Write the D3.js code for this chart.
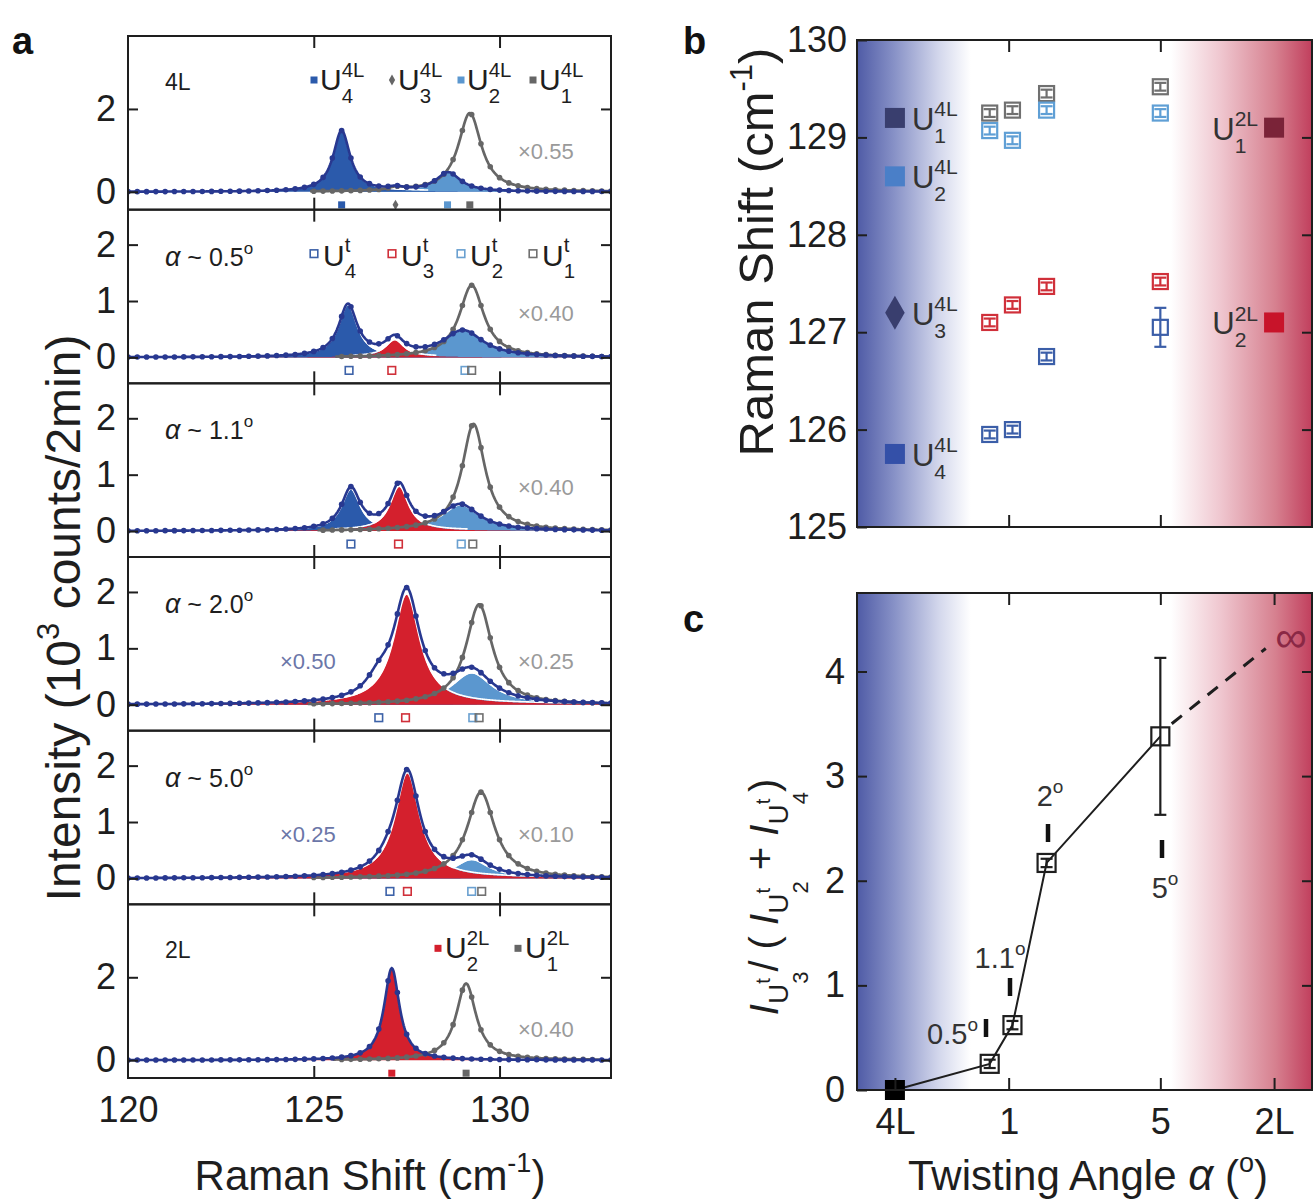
<!DOCTYPE html>
<html>
<head>
<meta charset="utf-8">
<script src="https://cdn.jsdelivr.net/npm/d3@7"></script>
<style>
  body { margin: 0; background: #fff; }
  text { font-family: "Liberation Sans", Arial, Helvetica, sans-serif; }
</style>
</head>
<body>
<script>
// ---------- data ----------
// panel a: fitted Lorentzian components per spectrum, [center, height, FWHM]
var spectra   = ["4L", "0.5", "1.1", "2.0", "5.0", "2L"];
var peakDark  = [[125.75,1.47,0.55],[125.92,0.92,0.6],[126.0,0.73,0.6],[126.75,0.28,0.8],[127.0,0.12,0.8],null];
var peakRed   = [null,[127.18,0.3,0.6],[127.3,0.78,0.6],[127.5,1.95,0.85],[127.52,1.86,0.8],[127.1,2.22,0.5]];
var peakLight = [[128.62,0.46,0.8],[129.02,0.47,1.3],[128.95,0.45,1.2],[129.25,0.55,1.3],[129.25,0.32,1.1],null];
var peakGray  = [[129.2,1.9,0.75],[129.25,1.28,0.8],[129.3,1.9,0.75],[129.45,1.78,0.85],[129.5,1.53,0.9],[129.1,1.85,0.65]];
var peakU3of4L = [127.22,0.07,0.5];
var grayFactor = ["×0.55","×0.40","×0.40","×0.25","×0.10","×0.40"];
var blueFactor = [null,null,null,"×0.50","×0.25",null];

// panel b: peak positions (cm-1)
var twistAngle = [0.5, 1.1, 2.0, 5.0];
var u1Twist = [129.25, 129.28, 129.45, 129.52];
var u2Twist = [129.07, 128.97, 129.28, 129.25];
var u3Twist = [127.1, 127.28, 127.47, 127.52];
var u4Twist = [125.95, 126.0, 126.75, 127.05];
var u4TwistErr = [0.04, 0.04, 0.04, 0.2];
var modes4L = [129.2, 128.6, 127.2, 125.75];   // U1..U4
var modes2L = [129.1, 127.1];                  // U1, U2

// panel c: intensity ratio
var ratioAngle = [-2, 0.5, 1.1, 2.0, 5.0];     // -2 is where 4L sits
var ratioValue = [0, 0.25, 0.62, 2.17, 3.38];
var ratioErr   = [0, 0.04, 0.04, 0.04, 0.75];
var ratioTrend = [[5.3, 3.5], [7.78, 4.22]];   // dashed guide towards 2L
var angleTicks = [-2, 1, 5, 8];
var angleTickText = ["4L", "1", "5", "2L"];

// ---------- styles ----------
var SERIF = '"Liberation Serif", "Times New Roman", serif';
var cDark = "#2b5aab", cLight = "#5b97cf", cRed = "#d4202d", cGray = "#666666", cNavy = "#283890";
var INK = "#1e1e1e";

var svg = d3.select("body").append("svg").attr("width", 1314).attr("height", 1200);
var defs = svg.append("defs");

function lor(v, p) { var d = (v - p[0]) / (p[2] / 2); return p[1] / (1 + d * d); }

// text made of pieces (sub/superscripts), left to right
function rich(parent, parts, anchor) {
  var t = parent.append("g"), cx = 0, pend = 0;
  parts.forEach(function (p) {
    var el = t.append("text").attr("x", cx).attr("y", p.dy || 0).attr("font-size", p.s).text(p.t);
    if (p.serif) el.attr("font-family", SERIF);
    if (p.it) el.attr("font-style", "italic");
    var w = el.node().getComputedTextLength();
    if (p.adv === false) { pend = w; }
    else { cx += Math.max(w, pend) + (p.gap || 0); pend = 0; }
  });
  if (anchor === "middle") t.attr("transform", "translate(" + (-cx / 2) + ",0)");
  if (anchor === "end") t.attr("transform", "translate(" + (-cx) + ",0)");
  return t;
}
function modeLabel(parent, x, y, sup, sub, fs, color, anchor) {
  var g = parent.append("g").attr("transform", "translate(" + x + "," + y + ")").attr("fill", color);
  rich(g, [{t: "U", s: fs}, {t: sup, s: fs * 0.68, dy: -fs * 0.45, adv: false}, {t: sub, s: fs * 0.68, dy: fs * 0.42}], anchor);
}
function styleAxis(g, fs) {
  g.select(".domain").remove();
  g.selectAll(".tick line").attr("stroke", INK).attr("stroke-width", 2);
  g.selectAll(".tick text").attr("font-size", fs).attr("fill", INK)
    .attr("font-family", '"Liberation Sans", Arial, sans-serif');
}

/*** PANEL A ***/
var ax0 = 128, ax1 = 611, aTop = 36, aBot = 1078, ph = (aBot - aTop) / 6;
var x = d3.scaleLinear().domain([120, 133]).range([ax0, ax1]);
var grid = d3.range(120, 133.001, 0.02);
var dotGrid = d3.range(120, 133.001, 0.25);
var legendX = [314, 392, 461, 533];

spectra.forEach(function (name, i) {
  var T = aTop + i * ph, B = T + ph;
  var tall = (i === 0 || i === 5);
  var y = d3.scaleLinear().domain(tall ? [-0.43, 3.76] : [-0.46, 2.62]).range([B, T]);
  var g = svg.append("g");
  defs.append("clipPath").attr("id", "clipA" + i).append("rect")
    .attr("x", ax0).attr("y", T).attr("width", ax1 - ax0).attr("height", ph);
  var plot = g.append("g").attr("clip-path", "url(#clipA" + i + ")");

  var blueParts = [peakDark[i], peakRed[i], peakLight[i]].filter(Boolean);
  var grayParts = [peakGray[i]];
  if (i === 0) { blueParts.push(peakU3of4L); grayParts.push(peakU3of4L); }
  var total = function (v) { return d3.sum(blueParts, function (p) { return lor(v, p); }); };
  var grayFn = function (v) { return d3.sum(grayParts, function (p) { return lor(v, p); }); };

  // filled components
  [[peakLight[i], cLight], [peakDark[i], cDark], [peakRed[i], cRed]].forEach(function (f) {
    if (!f[0]) return;
    plot.append("path")
      .attr("d", d3.area().x(function (v) { return x(v); }).y0(y(0))
        .y1(function (v) { return y(lor(v, f[0])); })(grid))
      .attr("fill", f[1]);
    plot.append("path")
      .attr("d", d3.line().defined(function (v) { return lor(v, f[0]) > 0.02; })
        .x(function (v) { return x(v); }).y(function (v) { return y(lor(v, f[0])) - 1; })(grid))
      .attr("fill", "none").attr("stroke", "#fff").attr("stroke-width", 1.6);
  });

  // gray spectrum (scaled)
  var gDef = function (v) { return grayFn(v) > 0.015; };
  plot.append("path")
    .attr("d", d3.line().defined(gDef).x(function (v) { return x(v); })
      .y(function (v) { return y(grayFn(v)); })(grid))
    .attr("fill", "none").attr("stroke", cGray).attr("stroke-width", 2.7);
  plot.selectAll(null).data(dotGrid.filter(gDef)).enter().append("circle")
    .attr("cx", function (v) { return x(v); }).attr("cy", function (v) { return y(grayFn(v)); })
    .attr("r", 2.8).attr("fill", cGray);

  // blue spectrum with data points
  plot.append("path")
    .attr("d", d3.line().x(function (v) { return x(v); }).y(function (v) { return y(total(v)); })(grid))
    .attr("fill", "none").attr("stroke", cNavy).attr("stroke-width", 2.6);
  plot.selectAll(null).data(dotGrid).enter().append("circle")
    .attr("cx", function (v) { return x(v); }).attr("cy", function (v) { return y(total(v)); })
    .attr("r", 2.8).attr("fill", cNavy);

  // peak position markers under the baseline
  var my = y(0) + 13;
  if (i === 0) {
    [[modes4L[0], cGray], [modes4L[1], cLight], [modes4L[3], cDark]].forEach(function (m) {
      g.append("rect").attr("x", x(m[0]) - 3.5).attr("y", my - 3.5).attr("width", 7).attr("height", 7).attr("fill", m[1]);
    });
    g.append("path").attr("d", d3.symbol(d3.symbolDiamond, 30)())
      .attr("transform", "translate(" + x(modes4L[2]) + "," + my + ")").attr("fill", cGray);
  } else if (i === 5) {
    [[modes2L[1], cRed], [modes2L[0], cGray]].forEach(function (m) {
      g.append("rect").attr("x", x(m[0]) - 3.5).attr("y", my - 3.5).attr("width", 7).attr("height", 7).attr("fill", m[1]);
    });
  } else {
    [[u4Twist[i - 1], "#3d62a8"], [u3Twist[i - 1], "#d0303a"], [u2Twist[i - 1], "#6aa0d0"], [u1Twist[i - 1], "#707070"]]
      .forEach(function (m) {
        g.append("rect").attr("x", x(m[0]) - 3.8).attr("y", my - 3.8).attr("width", 7.6).attr("height", 7.6)
          .attr("fill", "none").attr("stroke", m[1]).attr("stroke-width", 1.6);
      });
  }

  // frame and ticks
  g.append("rect").attr("x", ax0).attr("y", T).attr("width", ax1 - ax0).attr("height", ph)
    .attr("fill", "none").attr("stroke", INK).attr("stroke-width", 2);
  var tv = tall ? [0, 2] : [0, 1, 2];
  styleAxis(g.append("g").attr("transform", "translate(" + ax0 + ",0)")
    .call(d3.axisLeft(y).tickValues(tv).tickSize(-10).tickPadding(12).tickFormat(d3.format("d"))), 36);
  styleAxis(g.append("g").attr("transform", "translate(" + ax1 + ",0)")
    .call(d3.axisRight(y).tickValues(tv).tickSize(-10).tickFormat("")), 36);
  styleAxis(g.append("g").attr("transform", "translate(0," + T + ")")
    .call(d3.axisTop(x).tickValues([125, 130]).tickSize(-12).tickFormat("")), 36);
  styleAxis(g.append("g").attr("transform", "translate(0," + B + ")")
    .call(d3.axisBottom(x).tickValues(i === 5 ? [120, 125, 130] : [125, 130]).tickSize(-12).tickPadding(18)
      .tickFormat(i === 5 ? d3.format("d") : "")), 36);
  if (i === 5) g.selectAll(".tick line").filter(function (d) { return d === 120; }).remove();

  // labels
  var ly = T + 54;
  if (tall) {
    g.append("text").attr("x", 165).attr("y", ly).attr("font-size", 23).attr("fill", INK).text(name);
  } else {
    var lab = g.append("g").attr("transform", "translate(165," + (ly + 2) + ")").attr("fill", INK);
    rich(lab, [{t: "α", s: 27, serif: true, it: true}, {t: "\u00a0~\u00a0" + name, s: 25}, {t: "o", s: 17, dy: -12}]);
  }
  if (i === 0) {
    var cols = [cDark, cGray, cLight, cGray];
    ["4", "3", "2", "1"].forEach(function (s, k) {
      var lx = legendX[k];
      if (k === 1) g.append("path").attr("d", d3.symbol(d3.symbolDiamond, 34)())
        .attr("transform", "translate(" + lx + "," + (ly - 10) + ")").attr("fill", cols[k]);
      else g.append("rect").attr("x", lx - 3.5).attr("y", ly - 13.5).attr("width", 7).attr("height", 7).attr("fill", cols[k]);
      modeLabel(g, lx + 6, ly, "4L", s, 30, INK);
    });
  } else if (i === 5) {
    [[438, cRed, "2"], [518, cGray, "1"]].forEach(function (m) {
      g.append("rect").attr("x", m[0] - 3.5).attr("y", ly - 13.5).attr("width", 7).attr("height", 7).attr("fill", m[1]);
      modeLabel(g, m[0] + 7, ly, "2L", m[2], 30, INK);
    });
  } else if (i === 1) {
    var oc = ["#3d62a8", "#d0303a", "#6aa0d0", "#707070"];
    ["4", "3", "2", "1"].forEach(function (s, k) {
      var lx = legendX[k];
      g.append("rect").attr("x", lx - 3.8).attr("y", ly - 13.8).attr("width", 7.6).attr("height", 7.6)
        .attr("fill", "none").attr("stroke", oc[k]).attr("stroke-width", 1.6);
      modeLabel(g, lx + 9, ly + 2, "t", s, 30, INK);
    });
  }
  var fy = i === 0 ? y(0.8) : (i === 5 ? y(0.55) : y(0.64));
  g.append("text").attr("x", 518).attr("y", fy).attr("font-size", 22).attr("fill", "#9a9a9a").text(grayFactor[i]);
  if (blueFactor[i]) g.append("text").attr("x", 280).attr("y", fy).attr("font-size", 22).attr("fill", "#6b76a8").text(blueFactor[i]);
});

// panel a axis titles
var tA = svg.append("g").attr("transform", "translate(370,1190)").attr("fill", INK);
rich(tA, [{t: "Raman Shift (cm", s: 42}, {t: "-1", s: 27, dy: -18}, {t: ")", s: 42}], "middle");
var tAy = svg.append("g").attr("transform", "translate(80,618) rotate(-90)").attr("fill", INK);
rich(tAy, [{t: "Intensity (10", s: 48}, {t: "3", s: 31, dy: -21}, {t: "\u00a0counts/2min)", s: 48}], "middle");

/*** PANELS B and C (shared angle axis) ***/
var bx0 = 857, bx1 = 1312;
var xa = d3.scaleLinear().domain([-3, 9]).range([bx0, bx1]);

var grad = defs.append("linearGradient").attr("id", "bg");
[[0, "#4f5ba6"], [0.08, "#8690c6"], [0.18, "#d3d7ec"], [0.25, "#ffffff"], [0.69, "#ffffff"],
 [0.8, "#efc6cf"], [0.92, "#d6808f"], [1, "#c13f5d"]].forEach(function (s) {
  grad.append("stop").attr("offset", s[0]).attr("stop-color", s[1]);
});

// ----- panel b -----
var bTop = 40, bBot = 527;
var yb = d3.scaleLinear().domain([125, 130]).range([bBot, bTop]);
var gb = svg.append("g");
gb.append("rect").attr("x", bx0).attr("y", bTop).attr("width", bx1 - bx0).attr("height", bBot - bTop).attr("fill", "url(#bg)");

function openSquare(g, cx, cy, size, color, err, sw) {
  if (err) {
    g.append("line").attr("x1", cx).attr("x2", cx).attr("y1", err[0]).attr("y2", err[1]).attr("stroke", color).attr("stroke-width", sw);
    [err[0], err[1]].forEach(function (ey) {
      g.append("line").attr("x1", cx - 6).attr("x2", cx + 6).attr("y1", ey).attr("y2", ey).attr("stroke", color).attr("stroke-width", sw);
    });
  }
  g.append("rect").attr("x", cx - size / 2).attr("y", cy - size / 2).attr("width", size).attr("height", size)
    .attr("fill", "none").attr("stroke", color).attr("stroke-width", sw);
}
[[u1Twist, "#707070"], [u2Twist, "#5f9fd5"], [u3Twist, "#d0303a"], [u4Twist, "#3b5ea8"]].forEach(function (s, k) {
  s[0].forEach(function (v, j) {
    var e = k === 3 ? u4TwistErr[j] : 0.04;
    openSquare(gb, xa(twistAngle[j]), yb(v), 15, s[1], [yb(v - e), yb(v + e)], 2.2);
  });
});

// 4L and 2L reference modes
var c4L = ["#393e6e", "#4a7fc8", "#393e6e", "#3450a8"];
modes4L.forEach(function (v, k) {
  if (k === 2) gb.append("path").attr("d", d3.symbol(d3.symbolDiamond, 330)())
    .attr("transform", "translate(" + xa(-2) + "," + yb(v) + ")").attr("fill", c4L[k]);
  else gb.append("rect").attr("x", xa(-2) - 10).attr("y", yb(v) - 10).attr("width", 20).attr("height", 20).attr("fill", c4L[k]);
  modeLabel(gb, xa(-2) + 17, yb(v) + 12, "4L", String(k + 1), 31, "#333");
});
[["#7a2338", "1"], ["#c8142a", "2"]].forEach(function (m, k) {
  var v = modes2L[k];
  gb.append("rect").attr("x", xa(8) - 10).attr("y", yb(v) - 10).attr("width", 20).attr("height", 20).attr("fill", m[0]);
  modeLabel(gb, xa(8) - 16, yb(v) + 12, "2L", m[1], 31, "#333", "end");
});

gb.append("rect").attr("x", bx0).attr("y", bTop).attr("width", bx1 - bx0).attr("height", bBot - bTop)
  .attr("fill", "none").attr("stroke", INK).attr("stroke-width", 2);
styleAxis(gb.append("g").attr("transform", "translate(" + bx0 + ",0)")
  .call(d3.axisLeft(yb).tickValues([125, 126, 127, 128, 129, 130]).tickSize(-10).tickPadding(10).tickFormat(d3.format("d"))), 36);
styleAxis(gb.append("g").attr("transform", "translate(" + bx1 + ",0)")
  .call(d3.axisRight(yb).tickValues([126, 127, 128, 129]).tickSize(-10).tickFormat("")), 36);
styleAxis(gb.append("g").attr("transform", "translate(0," + bTop + ")")
  .call(d3.axisTop(xa).tickValues([1, 5]).tickSize(-12).tickFormat("")), 36);
styleAxis(gb.append("g").attr("transform", "translate(0," + bBot + ")")
  .call(d3.axisBottom(xa).tickValues([1, 5]).tickSize(-12).tickFormat("")), 36);

var tBy = svg.append("g").attr("transform", "translate(773,252) rotate(-90)").attr("fill", INK);
rich(tBy, [{t: "Raman Shift (cm", s: 49}, {t: "-1", s: 31, dy: -21}, {t: ")", s: 49}], "middle");

// ----- panel c -----
var cTop = 593, cBot = 1090;
var yc = d3.scaleLinear().domain([0, 4.75]).range([cBot, cTop]);
var gc = svg.append("g");
gc.append("rect").attr("x", bx0).attr("y", cTop).attr("width", bx1 - bx0).attr("height", cBot - cTop).attr("fill", "url(#bg)");

gc.append("path")
  .attr("d", d3.line().x(function (d) { return xa(d[0]); }).y(function (d) { return yc(d[1]); })(ratioTrend))
  .attr("stroke", INK).attr("stroke-width", 3).attr("stroke-dasharray", "13,10").attr("fill", "none");
gc.append("path")
  .attr("d", d3.line().x(function (d, j) { return xa(ratioAngle[j]); }).y(function (d) { return yc(d); })(ratioValue))
  .attr("stroke", INK).attr("stroke-width", 2).attr("fill", "none");
ratioValue.forEach(function (v, j) {
  if (j === 0) {
    gc.append("rect").attr("x", xa(ratioAngle[j]) - 10).attr("y", yc(v) - 10).attr("width", 20).attr("height", 20).attr("fill", "#000");
  } else {
    openSquare(gc, xa(ratioAngle[j]), yc(v), 18, INK, [yc(v - ratioErr[j]), yc(v + ratioErr[j])], 2.2);
  }
});

// angle annotations
function deg(g, x, y, txt, anchor) {
  var h = g.append("g").attr("transform", "translate(" + x + "," + y + ")").attr("fill", "#333");
  rich(h, [{t: txt, s: 29}, {t: "o", s: 19, dy: -13}], anchor);
}
function bar(g, x, y) {
  g.append("line").attr("x1", x).attr("x2", x).attr("y1", y - 9).attr("y2", y + 9).attr("stroke", "#111").attr("stroke-width", 4.5);
}
deg(gc, 978, 1044, "0.5", "end");  bar(gc, 986, 1028);
deg(gc, 1000, 968, "1.1", "middle"); bar(gc, 1010, 987);
deg(gc, 1050, 806, "2", "middle");  bar(gc, 1048, 833);
deg(gc, 1165, 898, "5", "middle");  bar(gc, 1162, 849);
gc.append("text").attr("x", 1291).attr("y", 652).attr("text-anchor", "middle").attr("font-size", 44)
  .attr("fill", "#8a2845").text("∞");

gc.append("rect").attr("x", bx0).attr("y", cTop).attr("width", bx1 - bx0).attr("height", cBot - cTop)
  .attr("fill", "none").attr("stroke", INK).attr("stroke-width", 2);
styleAxis(gc.append("g").attr("transform", "translate(" + bx0 + ",0)")
  .call(d3.axisLeft(yc).tickValues([0, 1, 2, 3, 4]).tickSize(-10).tickPadding(12).tickFormat(d3.format("d"))), 36);
styleAxis(gc.append("g").attr("transform", "translate(" + bx1 + ",0)")
  .call(d3.axisRight(yc).tickValues([1, 2, 3, 4]).tickSize(-10).tickFormat("")), 36);
styleAxis(gc.append("g").attr("transform", "translate(0," + cTop + ")")
  .call(d3.axisTop(xa).tickValues([1, 5, 8]).tickSize(-12).tickFormat("")), 36);
styleAxis(gc.append("g").attr("transform", "translate(0," + cBot + ")")
  .call(d3.axisBottom(xa).tickValues(angleTicks).tickSize(-12).tickPadding(18)
    .tickFormat(function (d, k) { return angleTickText[k]; })), 36);

var tCx = svg.append("g").attr("transform", "translate(1088,1190)").attr("fill", INK);
rich(tCx, [{t: "Twisting Angle\u00a0", s: 42}, {t: "α", s: 44, serif: true, it: true}, {t: "\u00a0(", s: 42},
  {t: "o", s: 27, dy: -18}, {t: ")", s: 42}], "middle");

var tCy = svg.append("g").attr("transform", "translate(778,897) rotate(-90)").attr("fill", INK);
rich(tCy, [
  {t: "I", s: 40, it: true}, {t: "U", s: 28, dy: 10}, {t: "t", s: 20, dy: -8, adv: false}, {t: "3", s: 22, dy: 30},
  {t: "/\u00a0(\u00a0", s: 40},
  {t: "I", s: 40, it: true}, {t: "U", s: 28, dy: 10}, {t: "t", s: 20, dy: -8, adv: false}, {t: "2", s: 22, dy: 30},
  {t: "\u00a0+\u00a0", s: 40, dy: -4},
  {t: "I", s: 40, it: true}, {t: "U", s: 28, dy: 10}, {t: "t", s: 20, dy: -8, adv: false}, {t: "4", s: 22, dy: 30},
  {t: ")", s: 40}
], "middle");

// panel letters
[["a", 12, 54], ["b", 683, 54], ["c", 683, 632]].forEach(function (l) {
  svg.append("text").attr("x", l[1]).attr("y", l[2]).attr("font-size", 38).attr("font-weight", "bold").attr("fill", "#111").text(l[0]);
});
</script>
</body>
</html>
